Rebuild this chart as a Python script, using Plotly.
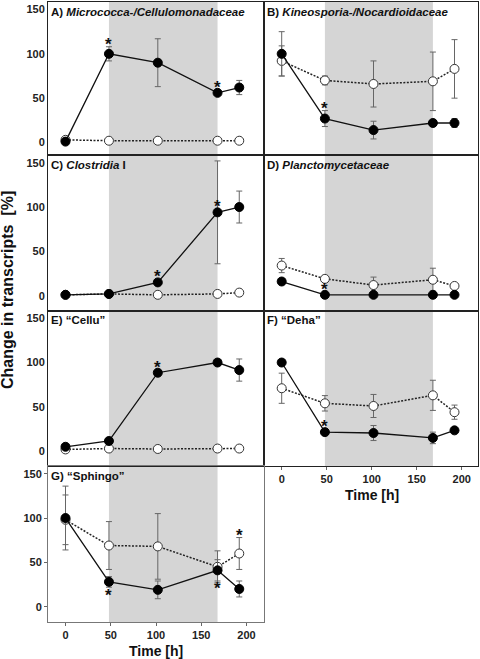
import plotly.graph_objects as go

# ---------------- data ----------------
time_h = [0, 48, 102, 168, 192]

panel_titles = [
    "A) <i>Micrococca-/Cellulomonadaceae</i>",
    "B) <i>Kineosporia-/Nocardioidaceae</i>",
    "C) <i>Clostridia</i> I",
    "D) <i>Planctomycetaceae</i>",
    "E) \u201cCellu\u201d",
    "F) \u201cDeha\u201d",
    "G) \u201cSphingo\u201d",
]

# filled circles (solid line)
filled_A = [1, 100, 90, 56, 62]
filled_A_err = [0, 8, 27, 0, 8]
open_A = [3, 2, 2, 2, 2]
open_A_err = [0, 0, 0, 0, 0]

filled_B = [100, 27, 14, 22, 22]
filled_B_err = [25, 9, 10, 0, 5]
open_B = [92, 70, 66, 69, 83]
open_B_err = [17, 5, 26, 33, 33]

filled_C = [1, 2, 15, 94, 100]
filled_C_err = [0, 0, 0, 58, 18]
open_C = [1, 2, 1, 2, 3.5]
open_C_err = [0, 0, 0, 0, 0]

filled_D = [16, 1, 1, 1, 1]
filled_D_err = [0, 0, 0, 0, 0]
open_D = [34, 19, 12, 18, 11]
open_D_err = [8, 0, 9, 13, 0]

filled_E = [5, 11.5, 88.5, 100, 91.5]
filled_E_err = [0, 0, 0, 0, 12.5]
open_E = [2, 3, 2.5, 3, 3]
open_E_err = [0, 0, 0, 0, 0]

filled_F = [100, 21.5, 20.5, 15, 23.5]
filled_F_err = [0, 0, 8.5, 6.5, 0]
open_F = [71, 54, 51, 63, 44]
open_F_err = [17, 8.7, 13, 17, 8]

filled_G = [100, 28, 19, 41, 20]
filled_G_err = [36, 6, 10, 12, 9]
open_G = [98, 69, 68, 45, 60]
open_G_err = [28, 27, 37, 18, 18]

# significance marks: (series, time index, side)
sig_A = [("filled", 1, "above"), ("filled", 3, "above")]
sig_B = [("filled", 1, "above")]
sig_C = [("filled", 2, "above"), ("filled", 3, "above")]
sig_D = [("filled", 1, "above")]
sig_E = [("filled", 2, "above")]
sig_F = [("filled", 1, "above")]
sig_G = [("filled", 1, "below"), ("filled", 3, "below"), ("open", 4, "above")]

shade_start, shade_end = 48, 168
y_ticks = [0, 50, 100, 150]
x_ticks = [0, 50, 100, 150, 200]

panels = [
    (filled_A, filled_A_err, open_A, open_A_err, sig_A),
    (filled_B, filled_B_err, open_B, open_B_err, sig_B),
    (filled_C, filled_C_err, open_C, open_C_err, sig_C),
    (filled_D, filled_D_err, open_D, open_D_err, sig_D),
    (filled_E, filled_E_err, open_E, open_E_err, sig_E),
    (filled_F, filled_F_err, open_F, open_F_err, sig_F),
    (filled_G, filled_G_err, open_G, open_G_err, sig_G),
]

# ---------------- layout geometry (pixels) ----------------
W, H = 480, 659
cols = [(48, 264), (264, 478)]
rows = [(2, 155.2), (155.2, 310.7), (310.7, 466.2), (466.2, 622)]
x_zero_px = [65.5, 281.7]
x_scale = [0.905, 0.9]
y_zero_off = 140.5
y_scale = 0.8867

FONT = "Liberation Sans"
fig = go.Figure()
layout = dict(
    width=W, height=H, margin=dict(l=0, r=0, t=0, b=0, autoexpand=False),
    paper_bgcolor="white", plot_bgcolor="white", showlegend=False,
    font=dict(family=FONT, color="#111"),
)
annotations = []
shapes = []

for i, (fv, fe, ov, oe, sig) in enumerate(panels):
    c = i % 2
    r = i // 2
    n = i + 1
    xa = "x" if n == 1 else f"x{n}"
    ya = "y" if n == 1 else f"y{n}"
    x0p, x1p = cols[c]
    y0p, y1p = rows[r]
    xr = [(x0p - x_zero_px[c]) / x_scale[c], (x1p - x_zero_px[c]) / x_scale[c]]
    hpx = y1p - y0p
    yr = [-(hpx - y_zero_off) / y_scale, y_zero_off / y_scale]

    bottom_panel = (i == 6) or (i == 5)
    left_col = (c == 0)
    axis_line_col = "#777" if i == 6 else "#222"

    layout[f"xaxis{n}" if n > 1 else "xaxis"] = dict(
        domain=[x0p / W, x1p / W], range=xr, anchor=ya, automargin=False,
        showgrid=False, zeroline=False, showline=True, mirror=True,
        linecolor=axis_line_col, linewidth=1,
        tickvals=x_ticks, showticklabels=bottom_panel,
        ticks="outside" if bottom_panel else "", ticklen=3, tickcolor="#666",
        tickfont=dict(family=FONT, size=11, weight="bold", color="#222"),
    )
    layout[f"yaxis{n}" if n > 1 else "yaxis"] = dict(
        domain=[1 - y1p / H, 1 - y0p / H], range=yr, anchor=xa, automargin=False,
        showgrid=False, zeroline=False, showline=True, mirror=True,
        linecolor=axis_line_col, linewidth=1,
        tickvals=y_ticks, showticklabels=left_col,
        ticks="outside" if i == 6 else "", ticklen=3, tickcolor="#666",
        tickfont=dict(family=FONT, size=11, weight="bold", color="#222"),
    )

    shapes.append(dict(type="rect", xref=xa, yref=f"{ya} domain",
                       x0=shade_start, x1=shade_end, y0=0, y1=1,
                       fillcolor="#d5d5d5", line=dict(width=0), layer="below"))

    # open series (dotted)
    fig.add_trace(go.Scatter(
        x=time_h, y=ov, xaxis=xa, yaxis=ya, mode="lines+markers",
        line=dict(color="#222", width=1.5, dash="2px,1.5px"),
        marker=dict(symbol="circle", size=9, color="white",
                    line=dict(color="#333", width=1)),
        error_y=dict(type="data", array=oe, visible=True, color="#666",
                     thickness=1, width=3),
    ))
    # filled series (solid)
    fig.add_trace(go.Scatter(
        x=time_h, y=fv, xaxis=xa, yaxis=ya, mode="lines+markers",
        line=dict(color="#111", width=1.3),
        marker=dict(symbol="circle", size=9, color="black",
                    line=dict(color="black", width=1)),
        error_y=dict(type="data", array=fe, visible=True, color="#666",
                     thickness=1, width=3),
    ))

    # panel title
    annotations.append(dict(
        xref="paper", yref="paper", x=(x0p + 1) / W, y=1 - (y0p + 1.5) / H,
        xanchor="left", yanchor="top", showarrow=False,
        text=f"<b>{panel_titles[i]}</b>",
        font=dict(family=FONT, size=11.5, color="#111"),
    ))

    # significance asterisks (placed relative to the point / its error cap)
    for series, idx, side in sig:
        vals, errs = (fv, fe) if series == "filled" else (ov, oe)
        v, e = vals[idx], errs[idx]
        err_px = e * y_scale
        off = err_px + 5 if err_px < 25 else 8
        off = max(off, 8.5)
        annotations.append(dict(
            xref=xa, yref=ya, x=time_h[idx], y=v,
            xanchor="center", yanchor="middle", showarrow=False,
            yshift=(off - 3) if side == "above" else (-off - 3),
            text="<b>*</b>",
            font=dict(family=FONT, size=17, color="#111"),
        ))

# axis titles
annotations.append(dict(
    xref="paper", yref="paper", x=8 / W, y=1 - 290 / H, textangle=-90,
    xanchor="center", yanchor="middle", showarrow=False,
    text="<b>Change in transcripts  [%]</b>",
    font=dict(family=FONT, size=16, color="#111"),
))
annotations.append(dict(
    xref="paper", yref="paper", x=156 / W, y=1 - 651 / H,
    xanchor="center", yanchor="middle", showarrow=False,
    text="<b>Time [h]</b>", font=dict(family=FONT, size=14, color="#111"),
))
annotations.append(dict(
    xref="paper", yref="paper", x=372 / W, y=1 - 495 / H,
    xanchor="center", yanchor="middle", showarrow=False,
    text="<b>Time [h]</b>", font=dict(family=FONT, size=14, color="#111"),
))

layout["annotations"] = annotations
layout["shapes"] = shapes
fig.update_layout(**layout)
fig.write_html(
    "out.html",
    config={"displayModeBar": False},
    post_script="document.body.style.margin='0';document.body.style.overflow='hidden';",
)
